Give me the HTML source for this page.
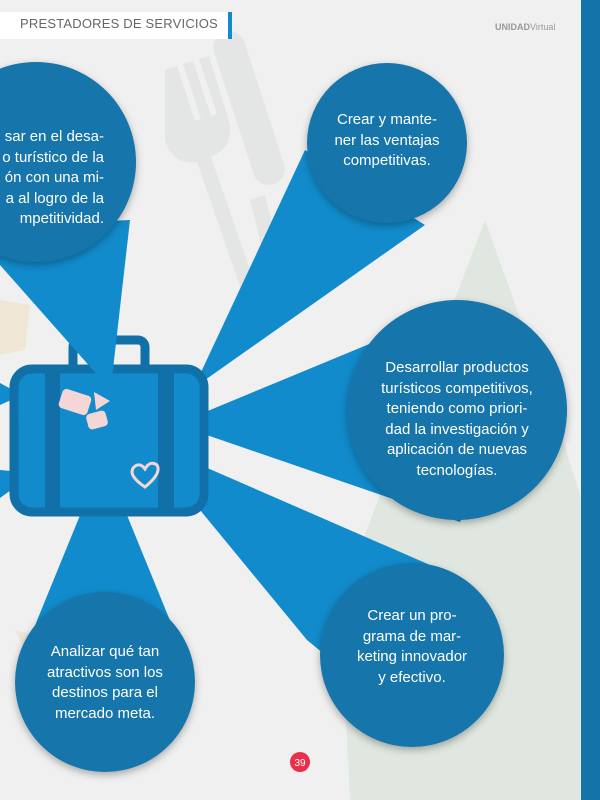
<!DOCTYPE html><html><head><style>
body{margin:0;width:600px;height:800px;overflow:hidden;background:#f0f0f0;font-family:"Liberation Sans",sans-serif}
.t{position:absolute;color:#fff;font-size:15px;line-height:20.5px;text-align:center}
</style></head><body>
<svg width="600" height="800" style="position:absolute;left:0;top:0">
<defs><filter id="s" x="-20%" y="-20%" width="140%" height="140%"><feDropShadow dx="0" dy="3" stdDeviation="4" flood-opacity="0.3"/></filter></defs>
<g fill="#e4e5e5">
<path d="M165 70 l12-4 18 55 6-2-18-55 10-3 18 55 6-2-18-55 10-3 20 65 q6 25-18 36 l45 130-14 5-45-130 q-25 3-32-22z"/>
<rect x="233" y="28" width="32" height="160" rx="16" transform="rotate(-18 249 108)"/>
<path d="M250 200 l15-5 20 80 -15 5z"/>
</g>
<path d="M485 220 L560 430 L600 560 L600 800 L350 800 L340 600 Z" fill="#e0e7e0"/>
<path d="M0 300 l30 5 -5 45 -25 5z" fill="#efe6d6"/>
<path d="M15 630 l20 5 -10 15z" fill="#efe6d6"/>
<g fill="#118bcb">
<polygon points="195,385 305,150 425,225 205,380"/>
<polygon points="198,415 420,323 470,500 460,522 198,432"/>
<polygon points="205,467 430,565 380,700 307,640 200,510"/>
<polygon points="85,503 122,503 180,645 27,645"/>
<polygon points="0,383 22,395 0,405"/>
<polygon points="0,470 22,472 22,482 0,498"/>
</g>
<rect x="73" y="340" width="72" height="34" rx="7" fill="none" stroke="#1270a8" stroke-width="9"/>
<rect x="14" y="369" width="190" height="143" rx="18" fill="#118bcb" stroke="#1270a8" stroke-width="9"/>
<rect x="45" y="372" width="15" height="138" fill="#1270a8"/>
<rect x="158" y="372" width="16" height="138" fill="#1270a8"/>
<polygon points="0,265 0,225 130,220 112,378 100,378" fill="#118bcb"/>
<g fill="#f5d6d6">
<rect x="60" y="392" width="30" height="20" rx="4" transform="rotate(18 75 402)"/>
<rect x="87" y="412" width="20" height="16" rx="4" transform="rotate(-15 97 420)"/>
<polygon points="94,392 110,401 96,410"/>
</g>
<path d="M145 487 q-18-12-11-20 q6-5 11 2 q5-9 12-4 q5 8-12 22z" fill="none" stroke="#f5d6d6" stroke-width="3"/>
<g fill="#1474aa" filter="url(#s)">
<circle cx="36" cy="162" r="100"/>
<circle cx="387" cy="143" r="80"/>
<circle cx="457" cy="410" r="110"/>
<circle cx="412" cy="655" r="92"/>
<circle cx="105" cy="682" r="90"/>
</g>
<circle cx="300" cy="762" r="10" fill="#e8304a"/>
<text x="300" y="766" font-size="10" fill="#fff" text-anchor="middle" font-family="Liberation Sans">39</text>
</svg>
<div style="position:absolute;left:0;top:12px;width:228px;height:27px;background:#fff"></div>
<div style="position:absolute;left:228px;top:12px;width:4px;height:27px;background:#118bcb"></div>
<div style="position:absolute;left:20px;top:16px;font-size:13px;color:#666;letter-spacing:0.2px">PRESTADORES DE SERVICIOS</div>
<div style="position:absolute;left:495px;top:22px;font-size:9px;color:#999"><b>UNIDAD</b><span style="font-weight:300">Virtual</span></div>
<div style="position:absolute;left:581px;top:0;width:19px;height:800px;background:#1474aa"></div>
<div class="t" style="left:-40px;top:127px;width:144px;text-align:right">sar en el desa-<br>o turístico de la<br>ón con una mi-<br>a al logro de la<br>mpetitividad.</div>
<div class="t" style="left:317px;top:110px;width:140px">Crear y mante-<br>ner las ventajas<br>competitivas.</div>
<div class="t" style="left:372px;top:358px;width:170px">Desarrollar productos<br>turísticos competitivos,<br>teniendo como priori-<br>dad la investigación y<br>aplicación de nuevas<br>tecnologías.</div>
<div class="t" style="left:337px;top:606px;width:150px">Crear un pro-<br>grama de mar-<br>keting innovador<br>y efectivo.</div>
<div class="t" style="left:30px;top:642px;width:150px">Analizar qué tan<br>atractivos son los<br>destinos para el<br>mercado meta.</div>
</body></html>
